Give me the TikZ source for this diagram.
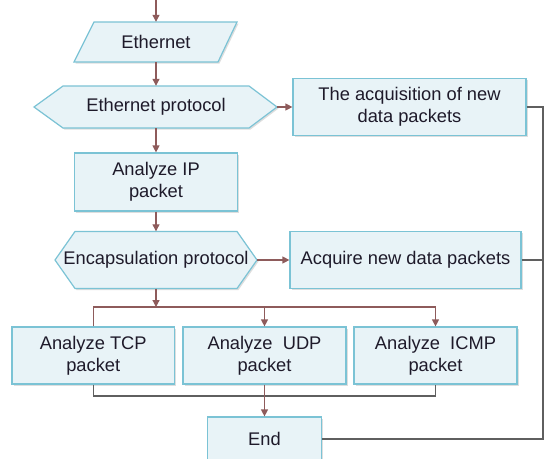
\documentclass[tikz,border=0pt]{standalone}
\usepackage{fontspec}
\setmainfont{Liberation Sans}
\usetikzlibrary{arrows.meta,backgrounds,calc}
\definecolor{fillc}{HTML}{E8F3F7}
\definecolor{bordc}{HTML}{7BC3D5}
\definecolor{arrc}{HTML}{8E5B5B}
\definecolor{grayc}{HTML}{5F5F5F}
\definecolor{txtc}{HTML}{1E1A2A}
\begin{document}
\begin{tikzpicture}[x=1pt,y=-1pt,
  lbl/.style={font=\fontsize{18.3}{21.7}\selectfont, text=txtc, align=center, inner sep=0pt},
  shade/.style={preaction={fill=black!13, draw=none, transform canvas={shift={(1.5pt,-1.5pt)}}}},
  box/.style={lbl, draw=bordc, fill=fillc, line width=1.2pt, shade},
  shp/.style={draw=bordc, fill=fillc, line width=1.2pt, shade},
  arr/.style={draw=arrc, line width=1.2pt, -{Triangle[length=7pt,width=7pt]}},
  brl/.style={draw=arrc, line width=1.2pt},
  gline/.style={draw=grayc, line width=1.2pt}]
\useasboundingbox (0,0) rectangle (545,458);
\clip (0,0) rectangle (545,458);

% shaped nodes (text only, outline drawn behind)
\node[lbl, minimum width=124pt, minimum height=40pt] (eth) at (156,42) {Ethernet};
\node[lbl, minimum height=42pt] (ethp) at (156,107) {Ethernet protocol};
\node[lbl, minimum height=57pt] (enc) at (156,260) {Encapsulation protocol};
\coordinate (ethpR) at ($(ethp.center)+(121,0)$);
\coordinate (encR) at ($(enc.center)+(101,0)$);

\begin{scope}[on background layer]
  \fill[white] (0,0) rectangle (545,458);
  \path[shp] ($(eth.center)+(-62,-20)$) -- ($(eth.center)+(81,-20)$) -- ($(eth.center)+(62,20)$) -- ($(eth.center)+(-82,20)$) -- cycle;
  \path[shp] ($(ethp.center)+(-93,-21)$) -- ($(ethp.center)+(93,-21)$) -- (ethpR) -- ($(ethp.center)+(93,21)$) -- ($(ethp.center)+(-93,21)$) -- ($(ethp.center)+(-122,0)$) -- cycle;
  \path[shp] ($(enc.center)+(-81,-28.5)$) -- ($(enc.center)+(81,-28.5)$) -- (encR) -- ($(enc.center)+(81,28.5)$) -- ($(enc.center)+(-81,28.5)$) -- ($(enc.center)+(-101,0)$) -- cycle;
\end{scope}

% boxes
\node[box, minimum width=233pt, minimum height=57pt] (acq) at (409.5,107) {The acquisition of new\\data packets};
\node[box, minimum width=163pt, minimum height=58pt] (ip) at (156,182) {Analyze IP\\packet};
\node[box, minimum width=231pt, minimum height=57pt] (acq2) at (405.5,260) {Acquire new data packets};
\node[box, minimum width=162.5pt, minimum height=57pt] (tcp) at (93.25,355.5) {Analyze TCP\\packet};
\node[box, minimum width=163pt, minimum height=57pt] (udp) at (264.5,355.5) {Analyze\ \ UDP\\packet};
\node[box, minimum width=163pt, minimum height=57pt] (icmp) at (435.5,355.5) {Analyze\ \ ICMP\\packet};
\node[box, minimum width=114pt, minimum height=44pt] (end) at (264.5,439) {End};

% connectors
\coordinate (top) at (156,-2);
\coordinate (br) at (156,307);
\coordinate (mg) at (0,396);
\coordinate (fb) at (543,0);
\draw[arr] (top) -- (eth.north);
\draw[arr] (eth.south) -- (ethp.north);
\draw[arr] (ethpR) -- (acq.west);
\draw[arr] (ethp.south) -- (ip.north);
\draw[arr] (ip.south) -- (enc.north);
\draw[arr] (encR) -- (acq2.west);
\draw[arr] (enc.south) -- (br);
\draw[brl] (tcp.north) -- (tcp.north |- br) -- (icmp.north |- br);
\draw[arr] (udp.north |- br) -- (udp.north);
\draw[arr] (icmp.north |- br) -- (icmp.north);
\draw[gline] (tcp.south) -- (tcp.south |- mg) -- (icmp.south |- mg) -- (icmp.south);
\draw[arr] (udp.south) -- (end.north);
\draw[gline] (acq.east) -- (acq.east -| fb) -- (fb |- end.east) -- (end.east);
\draw[gline] (acq2.east) -- (acq2.east -| fb);
\end{tikzpicture}
\end{document}
